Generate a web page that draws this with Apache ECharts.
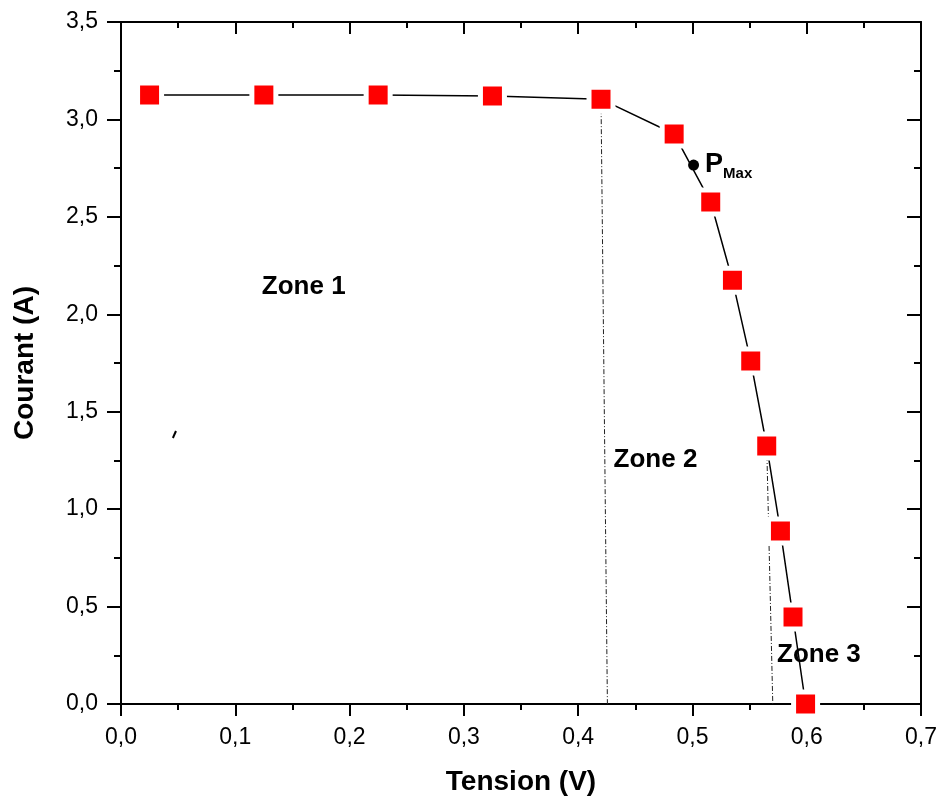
<!DOCTYPE html>
<html><head><meta charset="utf-8">
<script src="https://cdn.jsdelivr.net/npm/echarts@6/dist/echarts.min.js"></script>
<style>html,body{margin:0;padding:0;background:#fff}#c{width:940px;height:805px}</style>
</head><body><div id="c"></div>
<script>
const tension = [0.025, 0.125, 0.225, 0.325, 0.420, 0.484, 0.516, 0.535, 0.551, 0.565, 0.577, 0.588, 0.599];
const courant = [3.125, 3.125, 3.125, 3.12, 3.104, 2.925, 2.576, 2.175, 1.76, 1.324, 0.888, 0.446, 0.0];
const pmax = [0.501, 2.766];
const zone2Line = [[0.420, 3.104], [0.4256, 0]];
const zone3Line = [[0.565, 1.324], [0.5703, 0]];
const stray = [[0.0454, 1.365], [0.0481, 1.401]];
const zoneLabels = [
  {name: 'Zone 1', x: 0.1232, y: 2.14},
  {name: 'Zone 2', x: 0.431, y: 1.252},
  {name: 'Zone 3', x: 0.574, y: 0.251}
];
const xTicks = ['0,0','0,1','0,2','0,3','0,4','0,5','0,6','0,7'];

const chart = echarts.init(document.getElementById('c'));
const tickFont = {fontFamily: 'Arial, Liberation Sans, sans-serif', fontSize: 23, color: '#000'};
const fmt = v => v.toFixed(1).replace('.', ',');
const lineCol = '#000';
function xAx(pos) {
  const bottom = pos === 'bottom';
  return {
    type: 'value', position: pos, min: 0, max: 0.7, interval: 0.1,
    axisLine: {show: true, onZero: false, lineStyle: {color: lineCol, width: 2}},
    axisTick: {show: true, inside: !bottom, length: 12, lineStyle: {color: lineCol, width: 2}},
    minorTick: {show: true, splitNumber: 2, length: 6, lineStyle: {color: lineCol, width: 2}},
    axisLabel: {show: bottom, margin: 22, formatter: fmt, ...tickFont},
    splitLine: {show: false}, minorSplitLine: {show: false},
    name: bottom ? 'Tension (V)' : '', nameLocation: 'middle', nameGap: 64,
    nameTextStyle: {fontFamily: 'Arial, Liberation Sans, sans-serif', fontWeight: 'bold', fontSize: 28, color: '#000'}
  };
}
function yAx(pos) {
  const left = pos === 'left';
  return {
    type: 'value', position: pos, min: 0, max: 3.5, interval: 0.5,
    axisLine: {show: true, onZero: false, lineStyle: {color: lineCol, width: 2}},
    axisTick: {show: true, inside: !left, length: 14, lineStyle: {color: lineCol, width: 2}},
    minorTick: {show: true, splitNumber: 2, length: 7, lineStyle: {color: lineCol, width: 2}},
    axisLabel: {show: left, margin: 23, formatter: fmt, ...tickFont},
    splitLine: {show: false}, minorSplitLine: {show: false},
    name: left ? 'Courant (A)' : '', nameLocation: 'middle', nameGap: 82, nameRotate: 90,
    nameTextStyle: {fontFamily: 'Arial, Liberation Sans, sans-serif', fontWeight: 'bold', fontSize: 28, color: '#000'}
  };
}
const dashStyle = {color: '#222', width: 1, type: [5, 2, 1, 2]};
const labelFont = {fontFamily: 'Arial, Liberation Sans, sans-serif', fontWeight: 'bold', color: '#000', textBorderWidth: 0, opacity: 1};
chart.setOption({
  animation: false,
  grid: {left: 121, right: 18, top: 22, bottom: 101},
  xAxis: [xAx('bottom'), xAx('top')],
  yAxis: [yAx('left'), yAx('right')],
  series: [
    {type: 'line', data: zone2Line, symbol: 'none', lineStyle: dashStyle, z: 1},
    {type: 'line', data: zone3Line, symbol: 'none', lineStyle: dashStyle, z: 1},
    {type: 'line', data: stray, symbol: 'none', lineStyle: {color: '#000', width: 2}, z: 1},
    {type: 'line', data: tension.map((x, i) => [x, courant[i]]), symbol: 'rect', symbolSize: 24,
     itemStyle: {color: '#ff0000', borderColor: '#fff', borderWidth: 5},
     lineStyle: {color: '#000', width: 1.5}, z: 3},
    {type: 'scatter', data: [pmax], symbol: 'circle', symbolSize: 11, itemStyle: {color: '#000', opacity: 1}, z: 5,
     label: {show: true, position: 'right', distance: 6, formatter: '{p|P}{s|Max}', opacity: 1,
       rich: {p: {...labelFont, fontSize: 27}, s: {...labelFont, fontSize: 15, padding: [18, 0, 0, 0]}}}},
    {type: 'scatter', data: zoneLabels.map(z => ({value: [z.x, z.y], name: z.name})), symbolSize: 0, z: 6,
     itemStyle: {opacity: 1},
     label: {show: true, position: 'right', distance: 0, formatter: p => p.name, ...labelFont, fontSize: 26}}
  ]
});
</script></body></html>
